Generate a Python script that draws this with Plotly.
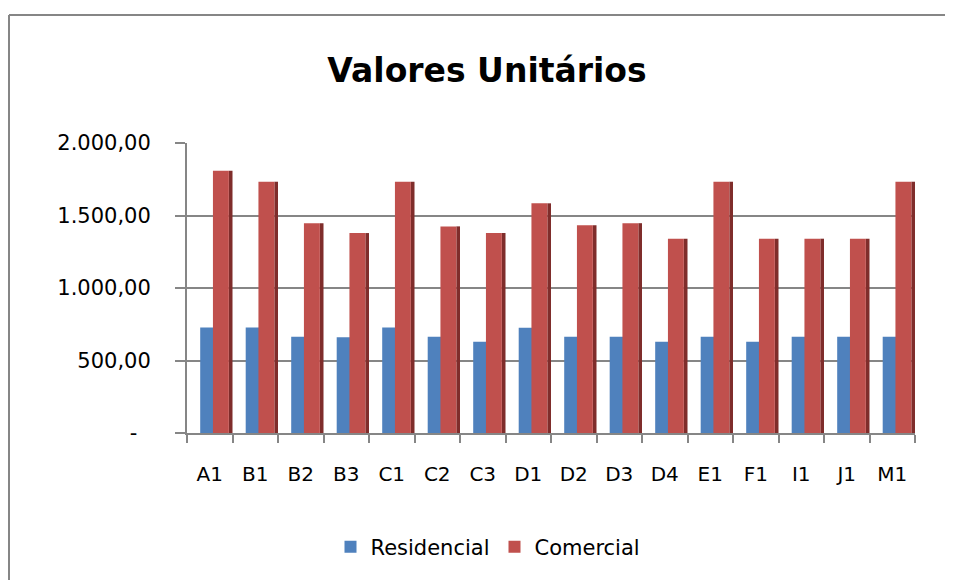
import plotly.graph_objects as go

categories = ["A1", "B1", "B2", "B3", "C1", "C2", "C3", "D1", "D2", "D3", "D4", "E1", "F1", "I1", "J1", "M1"]
residencial = [728, 728, 664, 660, 728, 664, 630, 726, 664, 664, 630, 664, 630, 664, 664, 664]
comercial = [1808, 1733, 1447, 1379, 1733, 1425, 1379, 1584, 1432, 1447, 1340, 1733, 1340, 1340, 1340, 1733]
y_ticks = [0, 500, 1000, 1500, 2000]
y_tick_labels = ["-\u00a0\u00a0", "500,00", "1.000,00", "1.500,00", "2.000,00"]

BLUE = "#4F81BD"
BLUE_DARK = "#2F5A8F"
RED = "#C0504D"
RED_DARK = "#7F2D2B"
GRID = "#868686"
FONT = "DejaVu Sans"

# page has an 8px body margin; figure coordinates are page - 8
W, H = 945, 572
L, R, T, B = 179, 38, 135, 145
PW, PH = W - L - R, H - T - B

fig = go.Figure()
fig.add_trace(go.Bar(x=categories, y=residencial, offset=0.08, width=0.07,
                     marker=dict(color=BLUE_DARK, line=dict(width=0)),
                     showlegend=False, hoverinfo="skip"))
fig.add_trace(go.Bar(name="Residencial", x=categories, y=residencial, offset=-0.21, width=0.3,
                     marker=dict(color=BLUE, line=dict(width=0))))
fig.add_trace(go.Bar(x=categories, y=comercial, offset=0.42, width=0.08,
                     marker=dict(color=RED_DARK, line=dict(width=0)),
                     showlegend=False, hoverinfo="skip"))
fig.add_trace(go.Bar(name="Comercial", x=categories, y=comercial, offset=0.07, width=0.35,
                     marker=dict(color=RED, line=dict(width=0))))

fig.update_layout(
    width=W, height=H,
    paper_bgcolor="white", plot_bgcolor="white",
    margin=dict(l=L, r=R, t=T, b=B),
    barmode="overlay",
    title=dict(text="<b>Valores Unitários</b>", x=(479 - 0) / W, xanchor="center",
               y=1 - 62 / H, yanchor="middle",
               font=dict(family=FONT, size=33, color="black")),
    font=dict(family=FONT, size=21, color="black"),
    legend=dict(orientation="h", x=(480 - L) / PW, xanchor="center",
                y=(T + PH - 542) / PH, yanchor="middle",
                font=dict(family=FONT, size=21, color="black"), traceorder="normal",
                itemwidth=30),
    showlegend=True,
)
fig.update_xaxes(
    type="category", tickson="boundaries", ticks="outside", ticklen=8, tickcolor=GRID, tickwidth=2,
    showline=True, linecolor=GRID, linewidth=2, showgrid=False,
    tickfont=dict(family=FONT, size=20, color="black"), ticklabelstandoff=22,
    range=[-0.5, 15.5],
)
fig.update_yaxes(
    range=[0, 2000], tickvals=y_ticks, ticktext=y_tick_labels,
    ticks="outside", ticklen=10, tickcolor=GRID, tickwidth=2,
    showline=True, linecolor=GRID, linewidth=2,
    showgrid=True, gridcolor=GRID, gridwidth=2, zeroline=False,
    tickfont=dict(family=FONT, size=21, color="black"), ticklabelstandoff=20,
)
# Outer chart border (top and left edges visible in the reference)
top_y = (T + PH - 6) / PH
left_x = (1 - L) / PW
fig.add_shape(type="line", xref="paper", yref="paper", x0=left_x, x1=(W - L) / PW + 0.02,
              y0=top_y, y1=top_y, line=dict(color=GRID, width=2))
fig.add_shape(type="line", xref="paper", yref="paper", x0=left_x, x1=left_x,
              y0=top_y, y1=-B / PH - 0.05, line=dict(color=GRID, width=2))

fig.write_html("out.html")
